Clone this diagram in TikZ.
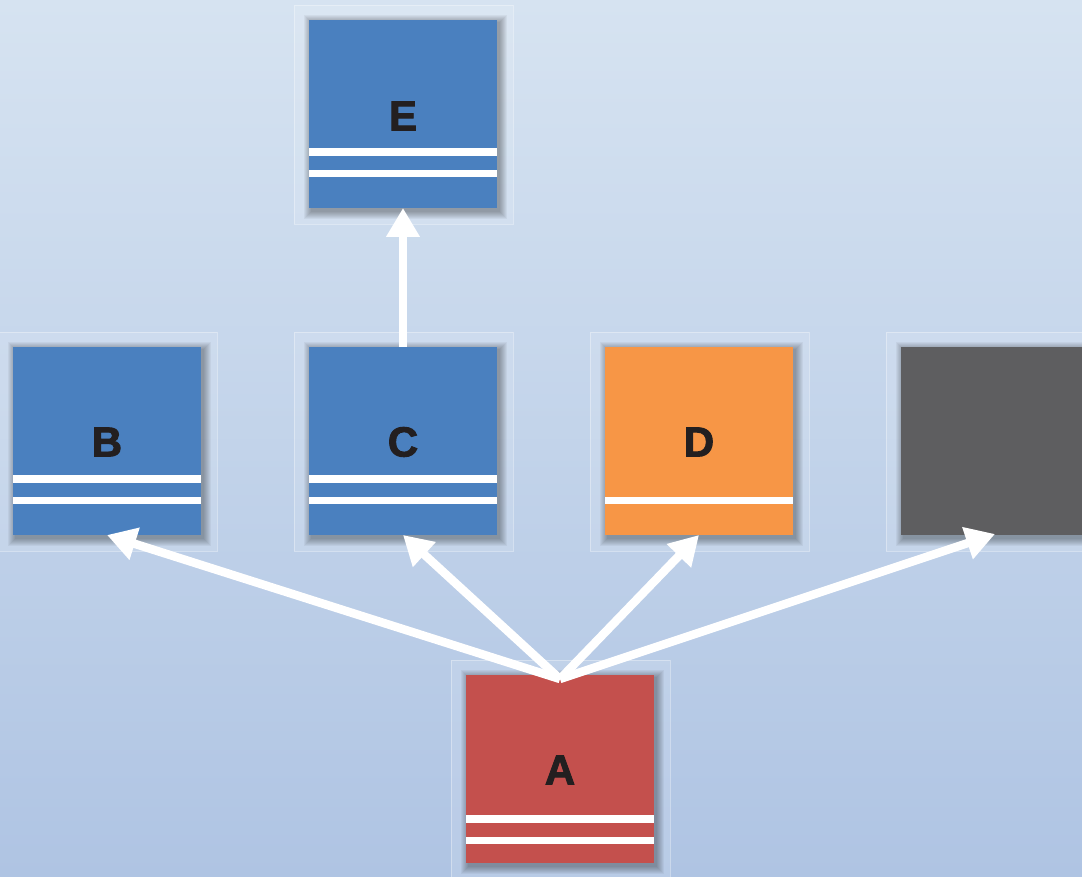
\documentclass[tikz,border=0pt]{standalone}
\usepackage{fontspec}
\setmainfont{Liberation Sans}
\newfontfamily\heavyfont{Liberation Sans Bold}[FakeBold=2.2]
\usetikzlibrary{arrows.meta,calc}
\definecolor{bgtop}{HTML}{D6E3F1}
\definecolor{bgbot}{HTML}{AFC4E3}
\definecolor{boxblue}{HTML}{4A80BF}
\definecolor{boxred}{HTML}{C4504D}
\definecolor{boxorange}{HTML}{F79646}
\definecolor{boxgray}{HTML}{5E5E60}
\definecolor{lettercol}{HTML}{231F20}
\tikzset{
  card/.style={minimum width=188pt,minimum height=188pt,inner sep=0pt,outer sep=0pt},
  letter/.style={inner sep=0pt,font=\fontsize{42}{42}\heavyfont,text=lettercol},
  frame/.style={draw=white,draw opacity=0.35,fill=white,fill opacity=0.12,line width=0.8pt},
  stripe/.style={fill=white},
  link/.style={draw=white,line width=8.5pt,-{Triangle[length=29pt,width=32pt]}},
}
\newcommand{\softshadow}[1]{%
  \foreach \i in {1,...,8}{%
    \fill[black,opacity=0.045] ($(#1.north west)+(-\i+3,-\i+3)$) rectangle ($(#1.south east)+(\i+2,\i+3)$);
  }%
}
\newcommand{\outerframe}[1]{%
  \path[frame] ($(#1.north west)+(-15,-15)$) rectangle ($(#1.south east)+(16,16)$);
}
\begin{document}
\begin{tikzpicture}[x=1pt,y=-1pt]
\useasboundingbox (0,0) rectangle (1082,877);
\shade[top color=bgtop,bottom color=bgbot,shading angle=0] (0,0) rectangle (1082,877);
\begin{scope}
\clip (0,0) rectangle (1082,877);
\path (403,114) coordinate (Ec)
      (107,441) coordinate (Bc)
      (403,441) coordinate (Cc)
      (699,441) coordinate (Dc)
      (995,441) coordinate (Gc)
      (560,769) coordinate (Ac);
\foreach \n in {E,B,C,D,G,A}{\path (\n c) node[card] (\n pos) {};}
\foreach \n in {E,B,C,D,G,A}{\outerframe{\n pos}}
\foreach \n in {E,B,C,D,G,A}{\softshadow{\n pos}}
\node[card,fill=boxblue] (E) at (Ec) {};
\node[card,fill=boxblue] (B) at (Bc) {};
\node[card,fill=boxblue] (C) at (Cc) {};
\node[card,fill=boxorange] (D) at (Dc) {};
\node[card,fill=boxgray] (G) at (Gc) {};
\node[card,fill=boxred] (A) at (Ac) {};
% stripes
\foreach \n in {E,B,C}{
  \fill[stripe] ($(\n.south west)+(0,-60)$) rectangle ($(\n.south east)+(0,-52)$);
  \fill[stripe] ($(\n.south west)+(0,-38)$) rectangle ($(\n.south east)+(0,-31)$);
}
\fill[stripe] ($(A.south west)+(0,-48)$) rectangle ($(A.south east)+(0,-40)$);
\fill[stripe] ($(A.south west)+(0,-26)$) rectangle ($(A.south east)+(0,-19)$);
\fill[stripe] ($(D.south west)+(0,-38)$) rectangle ($(D.south east)+(0,-31)$);
% letters
\node[letter] (Et) at ($(E.center)+(0,2)$) {E};
\node[letter] (Bt) at ($(B.center)+(0,1)$) {B};
\node[letter] (Ct) at ($(C.center)+(0,1)$) {C};
\node[letter] (Dt) at ($(D.center)+(0,1)$) {D};
\node[letter] (At) at ($(A.center)+(0,1)$) {A};
% connectors
\coordinate (Atop) at ($(A.north)+(0,4)$);
\coordinate (Gin) at ($(G.south)+(0,-1)$);
\draw[link] (Atop) -- (B.south);
\draw[link] (Atop) -- (C.south);
\draw[link] (Atop) -- (D.south);
\draw[link] (Atop) -- (Gin);
\draw[link] (C.north) -- (E.south);
\end{scope}
\end{tikzpicture}
\end{document}
